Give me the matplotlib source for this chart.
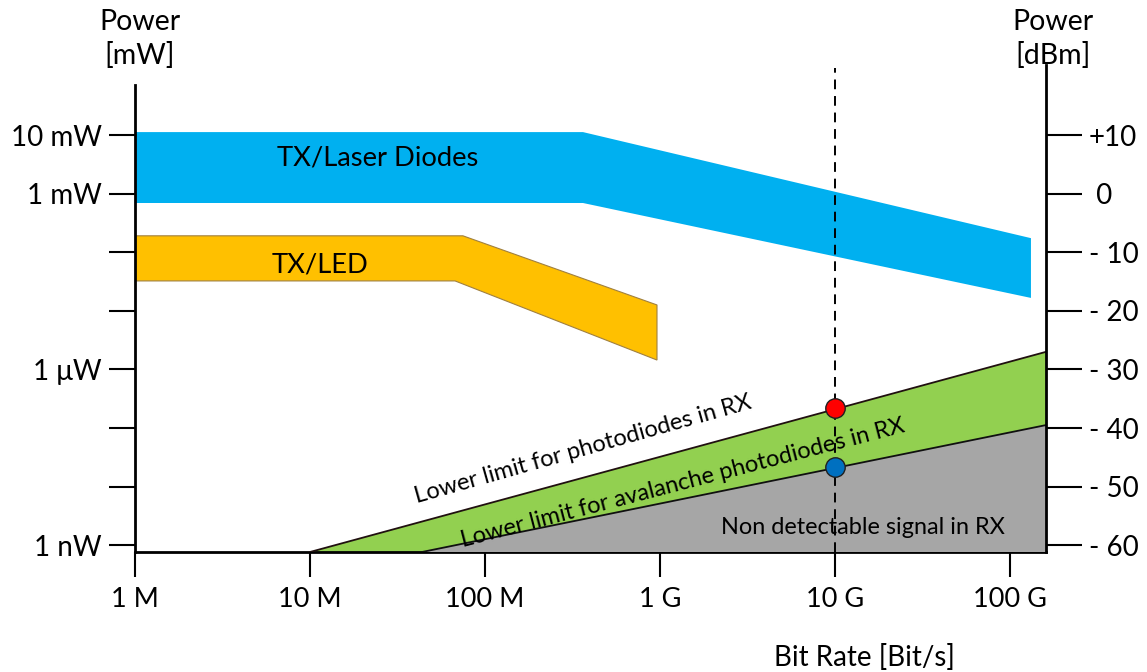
import numpy as np
import matplotlib
matplotlib.use("Agg")
from matplotlib import pyplot as plt

plt.rcParams['font.family'] = ['Lato', 'DejaVu Sans']

# x axis: bit rate (log), y axis: power in dBm
x_ticks = [1e6, 1e7, 1e8, 1e9, 1e10, 1e11]
x_labels = ['1 M', '10 M', '100 M', '1 G', '10 G', '100 G']
dbm_ticks = [10, 0, -10, -20, -30, -40, -50, -60]
mw_labels = ['10 mW', '1 mW', '', '', '1 \u03bcW', '', '', '1 nW']
dbm_labels = ['+10', ' 0', '- 10', '- 20', '- 30', '- 40', '- 50', '- 60']

x_min, x_max = 1e6, 10**11.206
y_min, y_max = -61.16, 21.95

# laser diode band (TX)
laser_x = [1e6, 10**8.56, 10**11.12]
laser_top = [10.5, 10.5, -7.6]
laser_bot = [-1.6, -1.6, -17.8]

# LED band (TX)
led_top_x = [1e6, 10**7.874, 10**8.983]
led_top = [-7.2, -7.2, -19.0]
led_bot_x = [1e6, 10**7.829, 10**8.983]
led_bot = [-14.9, -14.9, -28.4]

# receiver lower limits
pd_x = [1e7, x_max]
pd_y = [y_min, -27.0]
apd_x = [10**7.64, x_max]
apd_y = [y_min, -39.5]

dot_x = [1e10, 1e10]
dot_y = [-36.6, -46.6]
dot_col = ['#FF0000', '#0070C0']

fig = plt.figure(figsize=(11.47, 6.72), dpi=100)
ax = fig.add_axes([135/1147, 1-552/672, 911/1147, 487/672])
ax.set_xscale('log')
ax.set_xlim(x_min, x_max)
ax.set_ylim(y_min, y_max)

# bands
ax.fill(laser_x + laser_x[::-1], laser_top + laser_bot[::-1], color='#00B0F0', lw=0, zorder=2)
ax.fill(led_top_x + led_bot_x[::-1], led_top + led_bot[::-1], facecolor='#FFC000',
        edgecolor='#A08040', lw=0.8, zorder=2)

# RX areas
ax.fill(pd_x + [x_max], pd_y + [y_min], color='#92D050', lw=0, zorder=2)
ax.fill(apd_x + [x_max], apd_y + [y_min], color='#A6A6A6', lw=0, zorder=3)
ax.plot(pd_x, pd_y, color='#201010', lw=1.3, zorder=4)
ax.plot(apd_x, apd_y, color='#101010', lw=1.3, zorder=4)

# dashed line at 10 G
ax.plot([1e10, 1e10], [y_min, 21.4], color='black', lw=1.4, ls=(0, (5, 3.5)), zorder=5, clip_on=False)
for xx, yy, cc in zip(dot_x, dot_y, dot_col):
    ax.plot(xx, yy, marker='o', ms=14, mfc=cc, mec='#202020', mew=1, zorder=6)

# texts
ax.text(10**7.389, 6.07, 'TX/Laser Diodes', fontsize=19.7, ha='center', va='center', zorder=7)
ax.text(10**7.057, -12.2, 'TX/LED', fontsize=19.7, ha='center', va='center', zorder=7)
ax.text(10**8.56, -43.6, 'Lower limit for photodiodes in RX', fontsize=17,
        ha='center', va='center', rotation=15.8, rotation_mode='anchor', zorder=7)
ax.text(10**9.131, -49.4, 'Lower limit for avalanche photodiodes in RX', fontsize=17,
        ha='center', va='center', rotation=14.6, rotation_mode='anchor', zorder=7)
ax.text(10**10.16, -56.9, 'Non detectable signal in RX', fontsize=16.9,
        ha='center', va='center', zorder=7)

# axes styling
for s in ['top', 'right']:
    ax.spines[s].set_visible(False)
ax.spines['left'].set_bounds(y_min, 18.5)
ax.spines['left'].set_linewidth(2)
ax.spines['bottom'].set_linewidth(2)
ax.set_xticks(x_ticks)
ax.set_xticklabels(x_labels)
ax.xaxis.set_minor_locator(matplotlib.ticker.NullLocator())
ax.tick_params(axis='x', direction='out', length=18, width=1.5, pad=7, labelsize=19.5)
ax.set_yticks(dbm_ticks)
ax.set_yticklabels(mw_labels)
ax.tick_params(axis='y', direction='out', length=19, width=1.5, pad=5, labelsize=20)

ax2 = ax.twinx()
ax2.set_ylim(y_min, y_max)
for s in ['top', 'left', 'bottom']:
    ax2.spines[s].set_visible(False)
ax2.spines['right'].set_linewidth(2)
ax2.set_yticks(dbm_ticks)
ax2.set_yticklabels(dbm_labels)
ax2.tick_params(axis='y', direction='out', length=26, width=1.5, pad=5, labelsize=20)

fig.text(140/1147, 1-9/672, 'Power\n[mW]', fontsize=20.5, ha='center', va='top', linespacing=1.3)
fig.text(1053/1147, 1-9/672, 'Power\n[dBm]', fontsize=20.5, ha='center', va='top', linespacing=1.3)
fig.text(864/1147, 1-657/672, 'Bit Rate [Bit/s]', fontsize=20, ha='center', va='center')

fig.savefig('out.png', dpi=100)
